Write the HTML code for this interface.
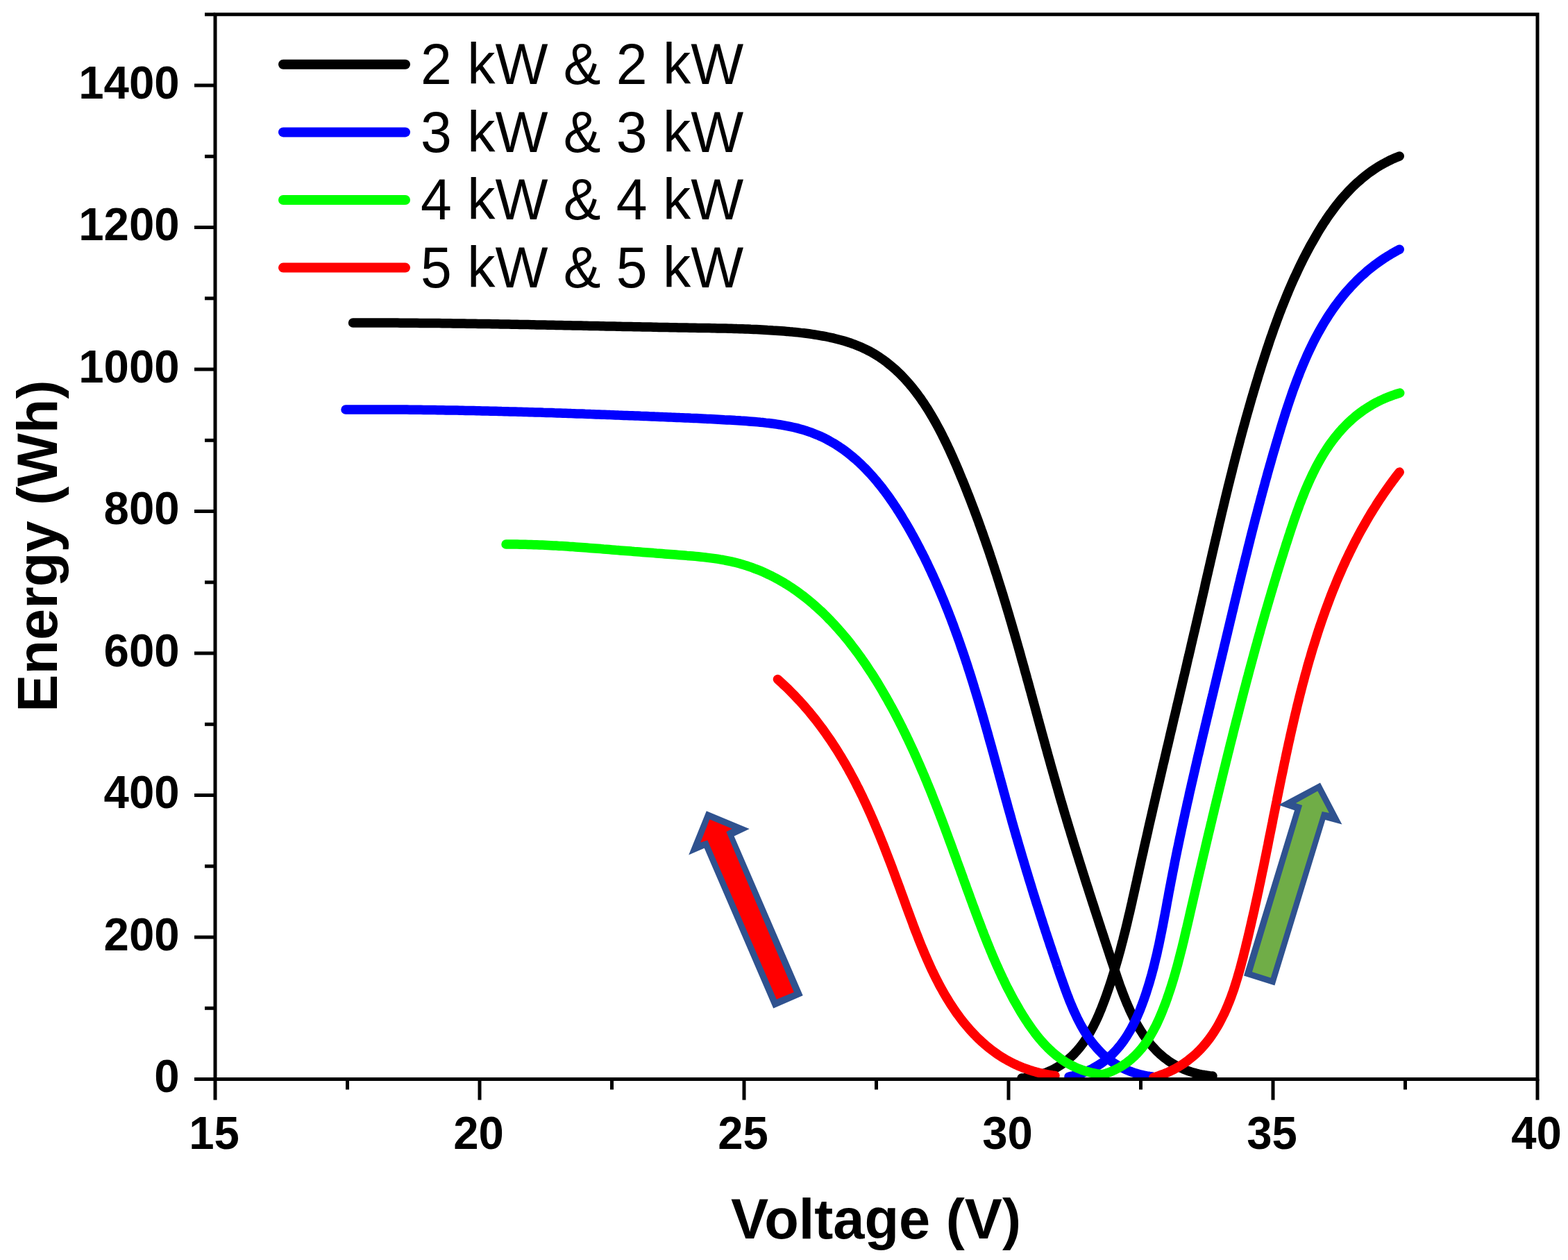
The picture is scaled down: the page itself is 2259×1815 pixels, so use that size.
<!DOCTYPE html>
<html><head><meta charset="utf-8"><title>Energy vs Voltage</title>
<style>
html,body{margin:0;padding:0;background:#fff;}
body{width:2259px;height:1815px;overflow:hidden;}
svg{display:block;}
text{font-family:"Liberation Sans",sans-serif;fill:#000;}
.tk{font-weight:bold;font-size:65.3px;}
.ttl{font-weight:bold;font-size:81.2px;}
.lg{font-size:80.5px;}
</style></head><body>
<svg width="2259" height="1815" viewBox="0 0 2259 1815">
<rect width="2259" height="1815" fill="#fff"/>
<defs><clipPath id="pa"><rect x="310.0" y="20.8" width="1905.0" height="1533.7"/></clipPath></defs>
<g clip-path="url(#pa)">
<path d="M508.5,465.0 L512.5,465.0 L516.5,465.0 L520.5,465.0 L524.5,465.0 L528.5,465.0 L532.6,465.0 L536.6,465.0 L540.6,465.0 L544.6,465.0 L548.6,465.0 L552.6,465.0 L556.6,465.1 L560.6,465.1 L564.6,465.1 L568.6,465.1 L572.6,465.1 L576.7,465.2 L580.7,465.2 L584.7,465.2 L588.7,465.2 L592.7,465.3 L596.7,465.3 L600.7,465.3 L604.7,465.4 L608.7,465.4 L612.7,465.4 L616.7,465.5 L620.8,465.5 L624.8,465.6 L628.8,465.6 L632.8,465.6 L636.8,465.7 L640.8,465.7 L644.8,465.8 L648.8,465.8 L652.8,465.9 L656.8,465.9 L660.8,466.0 L664.8,466.0 L668.9,466.1 L672.9,466.2 L676.9,466.2 L680.9,466.3 L684.9,466.3 L688.9,466.4 L692.9,466.5 L696.9,466.5 L700.9,466.6 L704.9,466.6 L708.9,466.7 L713.0,466.8 L717.0,466.8 L721.0,466.9 L725.0,467.0 L729.0,467.1 L733.0,467.1 L737.0,467.2 L741.0,467.3 L745.0,467.3 L749.0,467.4 L753.0,467.5 L757.0,467.6 L761.1,467.6 L765.1,467.7 L769.1,467.8 L773.1,467.9 L777.1,467.9 L781.1,468.0 L785.1,468.1 L789.1,468.2 L793.1,468.3 L797.1,468.3 L801.1,468.4 L805.1,468.5 L809.1,468.6 L813.2,468.7 L817.2,468.7 L821.2,468.8 L825.2,468.9 L829.2,469.0 L833.2,469.1 L837.2,469.1 L841.2,469.2 L845.2,469.3 L849.2,469.4 L853.2,469.5 L857.2,469.5 L861.3,469.6 L865.3,469.7 L869.3,469.8 L873.3,469.9 L877.3,470.0 L881.3,470.0 L885.3,470.1 L889.3,470.2 L893.3,470.3 L897.3,470.4 L901.3,470.4 L905.3,470.5 L909.4,470.6 L913.4,470.7 L917.4,470.8 L921.4,470.8 L925.4,470.9 L929.4,471.0 L933.4,471.1 L937.4,471.1 L941.4,471.2 L945.4,471.3 L949.4,471.4 L953.4,471.4 L957.5,471.5 L961.5,471.6 L965.5,471.7 L969.5,471.7 L973.5,471.8 L977.5,471.9 L981.5,472.0 L985.5,472.0 L989.5,472.1 L993.5,472.2 L997.5,472.2 L1001.5,472.3 L1005.6,472.4 L1009.6,472.4 L1013.6,472.5 L1017.6,472.6 L1021.6,472.6 L1025.6,472.7 L1029.6,472.8 L1033.6,472.9 L1037.6,472.9 L1041.6,473.0 L1045.6,473.1 L1049.6,473.2 L1053.7,473.3 L1057.7,473.4 L1061.7,473.6 L1065.7,473.7 L1069.7,473.8 L1073.7,474.0 L1077.7,474.1 L1081.7,474.3 L1085.7,474.4 L1089.7,474.6 L1093.7,474.8 L1097.7,475.0 L1101.7,475.2 L1105.7,475.5 L1109.7,475.7 L1113.7,476.0 L1117.7,476.2 L1121.7,476.5 L1125.7,476.8 L1129.7,477.1 L1133.7,477.4 L1137.7,477.8 L1141.7,478.1 L1145.7,478.5 L1149.7,478.9 L1153.7,479.4 L1157.6,479.8 L1161.6,480.3 L1165.6,480.8 L1169.6,481.4 L1173.5,482.0 L1177.5,482.6 L1181.5,483.3 L1185.4,484.0 L1189.3,484.7 L1193.3,485.5 L1197.2,486.3 L1201.1,487.2 L1205.0,488.2 L1208.9,489.2 L1212.8,490.2 L1216.6,491.3 L1220.4,492.5 L1224.2,493.7 L1228.0,495.1 L1231.8,496.4 L1235.5,497.9 L1239.2,499.4 L1242.9,501.1 L1246.5,502.8 L1250.1,504.6 L1253.7,506.4 L1257.2,508.4 L1260.6,510.4 L1264.0,512.5 L1267.4,514.7 L1270.7,517.0 L1274.0,519.3 L1277.2,521.7 L1280.3,524.2 L1283.4,526.7 L1286.5,529.3 L1289.5,531.9 L1292.4,534.7 L1295.3,537.4 L1298.2,540.2 L1301.0,543.1 L1303.7,546.0 L1306.4,549.0 L1309.1,552.0 L1311.7,555.1 L1314.3,558.1 L1316.8,561.3 L1319.2,564.4 L1321.6,567.6 L1324.0,570.9 L1326.4,574.1 L1328.6,577.4 L1330.9,580.7 L1333.1,584.1 L1335.3,587.4 L1337.4,590.8 L1339.5,594.2 L1341.6,597.7 L1343.6,601.1 L1345.6,604.6 L1347.6,608.1 L1349.5,611.6 L1351.4,615.1 L1353.3,618.7 L1355.2,622.2 L1357.0,625.8 L1358.8,629.4 L1360.6,633.0 L1362.3,636.6 L1364.1,640.2 L1365.8,643.8 L1367.5,647.4 L1369.2,651.1 L1370.8,654.7 L1372.5,658.4 L1374.1,662.1 L1375.7,665.7 L1377.3,669.4 L1378.9,673.1 L1380.4,676.8 L1382.0,680.5 L1383.5,684.2 L1385.0,687.9 L1386.6,691.6 L1388.1,695.3 L1389.6,699.0 L1391.1,702.7 L1392.6,706.5 L1394.0,710.2 L1395.5,713.9 L1397.0,717.7 L1398.4,721.4 L1399.8,725.1 L1401.3,728.9 L1402.7,732.6 L1404.1,736.4 L1405.5,740.2 L1406.9,743.9 L1408.3,747.7 L1409.7,751.4 L1411.0,755.2 L1412.4,759.0 L1413.7,762.8 L1415.1,766.5 L1416.4,770.3 L1417.7,774.1 L1419.1,777.9 L1420.4,781.7 L1421.7,785.5 L1423.0,789.3 L1424.3,793.0 L1425.6,796.8 L1426.8,800.6 L1428.1,804.4 L1429.4,808.3 L1430.6,812.1 L1431.9,815.9 L1433.1,819.7 L1434.3,823.5 L1435.6,827.3 L1436.8,831.1 L1438.0,835.0 L1439.2,838.8 L1440.4,842.6 L1441.6,846.4 L1442.8,850.3 L1444.0,854.1 L1445.2,857.9 L1446.3,861.7 L1447.5,865.6 L1448.7,869.4 L1449.8,873.3 L1451.0,877.1 L1452.1,880.9 L1453.3,884.8 L1454.4,888.6 L1455.5,892.5 L1456.7,896.3 L1457.8,900.2 L1458.9,904.0 L1460.0,907.9 L1461.2,911.7 L1462.3,915.6 L1463.4,919.4 L1464.5,923.3 L1465.6,927.1 L1466.7,931.0 L1467.8,934.8 L1468.9,938.7 L1470.0,942.6 L1471.0,946.4 L1472.1,950.3 L1473.2,954.1 L1474.3,958.0 L1475.4,961.9 L1476.4,965.7 L1477.5,969.6 L1478.6,973.4 L1479.6,977.3 L1480.7,981.2 L1481.8,985.0 L1482.8,988.9 L1483.9,992.8 L1485.0,996.6 L1486.0,1000.5 L1487.1,1004.4 L1488.1,1008.2 L1489.2,1012.1 L1490.3,1016.0 L1491.3,1019.8 L1492.4,1023.7 L1493.4,1027.6 L1494.5,1031.4 L1495.5,1035.3 L1496.6,1039.2 L1497.6,1043.0 L1498.7,1046.9 L1499.8,1050.8 L1500.8,1054.6 L1501.9,1058.5 L1502.9,1062.4 L1504.0,1066.2 L1505.1,1070.1 L1506.1,1074.0 L1507.2,1077.8 L1508.3,1081.7 L1509.3,1085.6 L1510.4,1089.4 L1511.5,1093.3 L1512.6,1097.2 L1513.6,1101.0 L1514.7,1104.9 L1515.8,1108.7 L1516.9,1112.6 L1518.0,1116.4 L1519.1,1120.3 L1520.2,1124.2 L1521.3,1128.0 L1522.4,1131.9 L1523.5,1135.7 L1524.6,1139.6 L1525.7,1143.4 L1526.8,1147.3 L1527.9,1151.1 L1529.0,1155.0 L1530.2,1158.8 L1531.3,1162.7 L1532.4,1166.5 L1533.6,1170.4 L1534.7,1174.2 L1535.9,1178.0 L1537.0,1181.9 L1538.2,1185.7 L1539.3,1189.6 L1540.5,1193.4 L1541.7,1197.2 L1542.8,1201.1 L1544.0,1204.9 L1545.2,1208.7 L1546.3,1212.6 L1547.5,1216.4 L1548.7,1220.2 L1549.9,1224.1 L1551.1,1227.9 L1552.3,1231.7 L1553.5,1235.5 L1554.7,1239.4 L1555.9,1243.2 L1557.1,1247.0 L1558.3,1250.8 L1559.5,1254.7 L1560.7,1258.5 L1561.9,1262.3 L1563.1,1266.1 L1564.3,1270.0 L1565.5,1273.8 L1566.8,1277.6 L1568.0,1281.4 L1569.2,1285.2 L1570.4,1289.0 L1571.7,1292.9 L1572.9,1296.7 L1574.1,1300.5 L1575.4,1304.3 L1576.6,1308.1 L1577.8,1311.9 L1579.1,1315.7 L1580.3,1319.6 L1581.6,1323.4 L1582.8,1327.2 L1584.0,1331.0 L1585.3,1334.8 L1586.5,1338.6 L1587.8,1342.4 L1589.0,1346.2 L1590.3,1350.0 L1591.5,1353.9 L1592.8,1357.7 L1594.0,1361.5 L1595.3,1365.3 L1596.5,1369.1 L1597.8,1372.9 L1599.0,1376.7 L1600.3,1380.5 L1601.5,1384.3 L1602.8,1388.1 L1604.1,1391.9 L1605.3,1395.7 L1606.6,1399.5 L1607.9,1403.3 L1609.2,1407.1 L1610.5,1410.9 L1611.8,1414.7 L1613.1,1418.5 L1614.5,1422.3 L1615.9,1426.0 L1617.3,1429.8 L1618.7,1433.5 L1620.2,1437.3 L1621.7,1441.0 L1623.2,1444.7 L1624.8,1448.4 L1626.4,1452.0 L1628.0,1455.7 L1629.7,1459.3 L1631.5,1462.9 L1633.2,1466.5 L1635.1,1470.1 L1637.0,1473.6 L1638.9,1477.1 L1640.9,1480.6 L1643.0,1484.0 L1645.2,1487.4 L1647.4,1490.8 L1649.7,1494.0 L1652.0,1497.3 L1654.5,1500.5 L1657.0,1503.6 L1659.6,1506.6 L1662.3,1509.6 L1665.0,1512.5 L1667.9,1515.4 L1670.8,1518.1 L1673.8,1520.7 L1676.9,1523.3 L1680.1,1525.7 L1683.3,1528.1 L1686.7,1530.3 L1690.1,1532.4 L1693.5,1534.4 L1697.1,1536.3 L1700.7,1538.1 L1704.3,1539.7 L1708.0,1541.2 L1711.8,1542.6 L1715.6,1543.9 L1719.4,1545.1 L1723.3,1546.1 L1727.2,1547.0 L1731.1,1547.8 L1735.1,1548.5 L1739.1,1549.1 L1743.0,1549.6 L1747.0,1550.0" fill="none" stroke="#000" stroke-width="13.5" stroke-linecap="round" stroke-linejoin="round"/>
<path d="M1472.0,1553.0 L1476.0,1552.6 L1480.0,1552.0 L1483.9,1551.4 L1487.9,1550.6 L1491.8,1549.8 L1495.7,1548.8 L1499.5,1547.6 L1503.3,1546.4 L1507.1,1545.0 L1510.8,1543.5 L1514.5,1541.8 L1518.1,1540.1 L1521.6,1538.1 L1525.1,1536.1 L1528.5,1534.0 L1531.8,1531.7 L1535.0,1529.3 L1538.1,1526.8 L1541.1,1524.1 L1544.1,1521.4 L1547.0,1518.6 L1549.7,1515.7 L1552.4,1512.7 L1555.0,1509.6 L1557.5,1506.5 L1559.9,1503.3 L1562.2,1500.0 L1564.5,1496.7 L1566.6,1493.3 L1568.7,1489.9 L1570.8,1486.4 L1572.7,1482.9 L1574.6,1479.4 L1576.4,1475.8 L1578.2,1472.2 L1579.9,1468.6 L1581.6,1464.9 L1583.2,1461.2 L1584.7,1457.5 L1586.3,1453.8 L1587.7,1450.1 L1589.2,1446.3 L1590.6,1442.6 L1592.0,1438.8 L1593.4,1435.0 L1594.7,1431.3 L1596.0,1427.5 L1597.3,1423.7 L1598.6,1419.9 L1599.9,1416.0 L1601.1,1412.2 L1602.3,1408.4 L1603.5,1404.6 L1604.7,1400.7 L1605.9,1396.9 L1607.0,1393.0 L1608.1,1389.2 L1609.2,1385.3 L1610.3,1381.5 L1611.4,1377.6 L1612.5,1373.7 L1613.6,1369.9 L1614.6,1366.0 L1615.6,1362.1 L1616.6,1358.2 L1617.7,1354.3 L1618.6,1350.5 L1619.6,1346.6 L1620.6,1342.7 L1621.6,1338.8 L1622.5,1334.9 L1623.5,1331.0 L1624.4,1327.1 L1625.3,1323.2 L1626.2,1319.3 L1627.2,1315.3 L1628.1,1311.4 L1629.0,1307.5 L1629.9,1303.6 L1630.8,1299.7 L1631.6,1295.8 L1632.5,1291.9 L1633.4,1287.9 L1634.3,1284.0 L1635.2,1280.1 L1636.0,1276.2 L1636.9,1272.3 L1637.8,1268.4 L1638.6,1264.4 L1639.5,1260.5 L1640.4,1256.6 L1641.2,1252.7 L1642.1,1248.8 L1643.0,1244.8 L1643.8,1240.9 L1644.7,1237.0 L1645.6,1233.1 L1646.5,1229.2 L1647.4,1225.3 L1648.2,1221.3 L1649.1,1217.4 L1650.0,1213.5 L1650.9,1209.6 L1651.8,1205.7 L1652.7,1201.8 L1653.6,1197.8 L1654.4,1193.9 L1655.3,1190.0 L1656.2,1186.1 L1657.1,1182.2 L1658.0,1178.3 L1658.9,1174.4 L1659.8,1170.4 L1660.7,1166.5 L1661.6,1162.6 L1662.5,1158.7 L1663.4,1154.8 L1664.3,1150.9 L1665.2,1147.0 L1666.1,1143.1 L1667.0,1139.2 L1667.9,1135.2 L1668.9,1131.3 L1669.8,1127.4 L1670.7,1123.5 L1671.6,1119.6 L1672.5,1115.7 L1673.4,1111.8 L1674.3,1107.9 L1675.2,1104.0 L1676.1,1100.1 L1677.1,1096.2 L1678.0,1092.2 L1678.9,1088.3 L1679.8,1084.4 L1680.7,1080.5 L1681.6,1076.6 L1682.6,1072.7 L1683.5,1068.8 L1684.4,1064.9 L1685.3,1061.0 L1686.2,1057.1 L1687.1,1053.2 L1688.1,1049.3 L1689.0,1045.3 L1689.9,1041.4 L1690.8,1037.5 L1691.7,1033.6 L1692.7,1029.7 L1693.6,1025.8 L1694.5,1021.9 L1695.4,1018.0 L1696.3,1014.1 L1697.3,1010.2 L1698.2,1006.3 L1699.1,1002.4 L1700.0,998.5 L1700.9,994.5 L1701.9,990.6 L1702.8,986.7 L1703.7,982.8 L1704.6,978.9 L1705.5,975.0 L1706.5,971.1 L1707.4,967.2 L1708.3,963.3 L1709.2,959.4 L1710.1,955.5 L1711.0,951.6 L1711.9,947.6 L1712.9,943.7 L1713.8,939.8 L1714.7,935.9 L1715.6,932.0 L1716.5,928.1 L1717.4,924.2 L1718.3,920.3 L1719.2,916.4 L1720.1,912.5 L1721.1,908.6 L1722.0,904.6 L1722.9,900.7 L1723.8,896.8 L1724.7,892.9 L1725.6,889.0 L1726.5,885.1 L1727.4,881.2 L1728.3,877.3 L1729.2,873.3 L1730.1,869.4 L1731.0,865.5 L1731.9,861.6 L1732.8,857.7 L1733.7,853.8 L1734.6,849.9 L1735.5,846.0 L1736.3,842.0 L1737.2,838.1 L1738.1,834.2 L1739.0,830.3 L1739.9,826.4 L1740.8,822.5 L1741.7,818.6 L1742.6,814.7 L1743.5,810.7 L1744.4,806.8 L1745.3,802.9 L1746.2,799.0 L1747.1,795.1 L1748.0,791.2 L1748.9,787.3 L1749.8,783.4 L1750.7,779.4 L1751.7,775.5 L1752.6,771.6 L1753.5,767.7 L1754.4,763.8 L1755.3,759.9 L1756.2,756.0 L1757.1,752.1 L1758.1,748.2 L1759.0,744.3 L1759.9,740.4 L1760.8,736.5 L1761.8,732.6 L1762.7,728.7 L1763.7,724.7 L1764.6,720.8 L1765.5,716.9 L1766.5,713.0 L1767.4,709.1 L1768.4,705.2 L1769.3,701.3 L1770.3,697.4 L1771.3,693.5 L1772.2,689.7 L1773.2,685.8 L1774.2,681.9 L1775.2,678.0 L1776.1,674.1 L1777.1,670.2 L1778.1,666.3 L1779.1,662.4 L1780.1,658.5 L1781.1,654.6 L1782.1,650.7 L1783.1,646.9 L1784.2,643.0 L1785.2,639.1 L1786.2,635.2 L1787.2,631.3 L1788.3,627.5 L1789.3,623.6 L1790.4,619.7 L1791.4,615.8 L1792.5,612.0 L1793.6,608.1 L1794.6,604.2 L1795.7,600.4 L1796.8,596.5 L1797.9,592.6 L1799.0,588.8 L1800.1,584.9 L1801.2,581.1 L1802.3,577.2 L1803.4,573.3 L1804.6,569.5 L1805.7,565.6 L1806.8,561.8 L1808.0,557.9 L1809.1,554.1 L1810.3,550.3 L1811.5,546.4 L1812.6,542.6 L1813.8,538.7 L1815.0,534.9 L1816.2,531.1 L1817.4,527.2 L1818.6,523.4 L1819.9,519.6 L1821.1,515.8 L1822.3,512.0 L1823.6,508.1 L1824.8,504.3 L1826.1,500.5 L1827.4,496.7 L1828.6,492.9 L1829.9,489.1 L1831.2,485.3 L1832.6,481.5 L1833.9,477.7 L1835.2,473.9 L1836.6,470.2 L1838.0,466.4 L1839.3,462.6 L1840.7,458.9 L1842.1,455.1 L1843.5,451.3 L1845.0,447.6 L1846.4,443.8 L1847.9,440.1 L1849.4,436.4 L1850.9,432.7 L1852.4,428.9 L1853.9,425.2 L1855.5,421.5 L1857.0,417.8 L1858.6,414.1 L1860.2,410.4 L1861.8,406.8 L1863.4,403.1 L1865.1,399.4 L1866.8,395.8 L1868.5,392.2 L1870.2,388.5 L1871.9,384.9 L1873.6,381.3 L1875.4,377.7 L1877.2,374.1 L1879.0,370.5 L1880.9,366.9 L1882.7,363.4 L1884.6,359.8 L1886.5,356.3 L1888.4,352.8 L1890.4,349.3 L1892.4,345.8 L1894.4,342.3 L1896.4,338.8 L1898.4,335.4 L1900.5,331.9 L1902.6,328.5 L1904.7,325.1 L1906.9,321.7 L1909.1,318.4 L1911.3,315.0 L1913.6,311.7 L1915.9,308.4 L1918.3,305.2 L1920.6,302.0 L1923.0,298.7 L1925.5,295.6 L1928.0,292.4 L1930.5,289.3 L1933.1,286.2 L1935.7,283.2 L1938.4,280.2 L1941.1,277.2 L1943.9,274.3 L1946.7,271.4 L1949.5,268.6 L1952.4,265.8 L1955.4,263.1 L1958.4,260.4 L1961.4,257.8 L1964.5,255.3 L1967.6,252.8 L1970.8,250.3 L1974.0,247.9 L1977.3,245.6 L1980.6,243.4 L1984.0,241.2 L1987.4,239.1 L1990.9,237.0 L1994.4,235.1 L1997.9,233.2 L2001.5,231.4 L2005.1,229.6 L2008.8,228.0 L2012.5,226.4 L2016.2,224.9" fill="none" stroke="#000" stroke-width="13.5" stroke-linecap="round" stroke-linejoin="round"/>
<path d="M498.0,590.0 L502.0,590.0 L506.0,590.0 L510.0,590.0 L514.0,589.9 L518.1,589.9 L522.1,589.9 L526.1,589.9 L530.1,589.9 L534.1,589.9 L538.1,589.9 L542.1,589.9 L546.1,589.9 L550.2,589.9 L554.2,590.0 L558.2,590.0 L562.2,590.0 L566.2,590.0 L570.2,590.0 L574.2,590.1 L578.2,590.1 L582.2,590.1 L586.3,590.1 L590.3,590.2 L594.3,590.2 L598.3,590.3 L602.3,590.3 L606.3,590.3 L610.3,590.4 L614.3,590.4 L618.4,590.5 L622.4,590.5 L626.4,590.6 L630.4,590.7 L634.4,590.7 L638.4,590.8 L642.4,590.9 L646.4,590.9 L650.4,591.0 L654.5,591.1 L658.5,591.1 L662.5,591.2 L666.5,591.3 L670.5,591.4 L674.5,591.4 L678.5,591.5 L682.5,591.6 L686.5,591.7 L690.6,591.8 L694.6,591.9 L698.6,592.0 L702.6,592.1 L706.6,592.2 L710.6,592.2 L714.6,592.3 L718.6,592.4 L722.6,592.6 L726.7,592.7 L730.7,592.8 L734.7,592.9 L738.7,593.0 L742.7,593.1 L746.7,593.2 L750.7,593.3 L754.7,593.4 L758.7,593.5 L762.7,593.7 L766.8,593.8 L770.8,593.9 L774.8,594.0 L778.8,594.1 L782.8,594.3 L786.8,594.4 L790.8,594.5 L794.8,594.6 L798.8,594.8 L802.9,594.9 L806.9,595.0 L810.9,595.2 L814.9,595.3 L818.9,595.4 L822.9,595.6 L826.9,595.7 L830.9,595.9 L834.9,596.0 L838.9,596.1 L842.9,596.3 L847.0,596.4 L851.0,596.6 L855.0,596.7 L859.0,596.9 L863.0,597.0 L867.0,597.2 L871.0,597.3 L875.0,597.4 L879.0,597.6 L883.0,597.7 L887.0,597.9 L891.1,598.1 L895.1,598.2 L899.1,598.4 L903.1,598.5 L907.1,598.7 L911.1,598.8 L915.1,599.0 L919.1,599.1 L923.1,599.3 L927.1,599.4 L931.1,599.6 L935.2,599.8 L939.2,599.9 L943.2,600.1 L947.2,600.2 L951.2,600.4 L955.2,600.6 L959.2,600.7 L963.2,600.9 L967.2,601.1 L971.2,601.2 L975.2,601.4 L979.3,601.6 L983.3,601.7 L987.3,601.9 L991.3,602.1 L995.3,602.3 L999.3,602.4 L1003.3,602.6 L1007.3,602.8 L1011.3,603.0 L1015.3,603.2 L1019.3,603.4 L1023.3,603.6 L1027.3,603.8 L1031.4,604.0 L1035.4,604.2 L1039.4,604.4 L1043.4,604.7 L1047.4,604.9 L1051.4,605.1 L1055.4,605.3 L1059.4,605.6 L1063.4,605.8 L1067.4,606.1 L1071.4,606.3 L1075.4,606.6 L1079.4,606.9 L1083.4,607.2 L1087.4,607.5 L1091.4,607.9 L1095.4,608.3 L1099.4,608.6 L1103.4,609.1 L1107.4,609.5 L1111.3,610.0 L1115.3,610.5 L1119.3,611.1 L1123.3,611.7 L1127.2,612.4 L1131.2,613.1 L1135.1,613.8 L1139.0,614.6 L1143.0,615.5 L1146.9,616.4 L1150.8,617.4 L1154.6,618.5 L1158.5,619.6 L1162.3,620.8 L1166.1,622.1 L1169.9,623.4 L1173.6,624.9 L1177.3,626.4 L1181.0,628.0 L1184.7,629.7 L1188.3,631.4 L1191.8,633.3 L1195.4,635.2 L1198.8,637.2 L1202.3,639.2 L1205.7,641.4 L1209.0,643.5 L1212.4,645.8 L1215.6,648.1 L1218.9,650.5 L1222.1,652.9 L1225.2,655.4 L1228.3,658.0 L1231.3,660.6 L1234.4,663.2 L1237.3,665.9 L1240.2,668.7 L1243.1,671.5 L1246.0,674.3 L1248.8,677.2 L1251.5,680.1 L1254.2,683.0 L1256.9,686.0 L1259.6,689.1 L1262.2,692.1 L1264.7,695.2 L1267.3,698.3 L1269.8,701.4 L1272.2,704.6 L1274.6,707.8 L1277.0,711.0 L1279.4,714.3 L1281.7,717.5 L1284.0,720.8 L1286.3,724.1 L1288.5,727.5 L1290.8,730.8 L1292.9,734.2 L1295.1,737.5 L1297.2,740.9 L1299.4,744.4 L1301.4,747.8 L1303.5,751.2 L1305.6,754.7 L1307.6,758.1 L1309.6,761.6 L1311.6,765.1 L1313.5,768.6 L1315.5,772.1 L1317.4,775.6 L1319.3,779.2 L1321.2,782.7 L1323.0,786.3 L1324.9,789.8 L1326.7,793.4 L1328.6,797.0 L1330.4,800.5 L1332.2,804.1 L1333.9,807.7 L1335.7,811.3 L1337.4,815.0 L1339.1,818.6 L1340.8,822.2 L1342.5,825.9 L1344.2,829.5 L1345.9,833.2 L1347.5,836.8 L1349.1,840.5 L1350.7,844.2 L1352.3,847.8 L1353.9,851.5 L1355.5,855.2 L1357.0,858.9 L1358.6,862.6 L1360.1,866.3 L1361.6,870.0 L1363.1,873.8 L1364.6,877.5 L1366.1,881.2 L1367.5,885.0 L1369.0,888.7 L1370.4,892.4 L1371.8,896.2 L1373.3,900.0 L1374.6,903.7 L1376.0,907.5 L1377.4,911.3 L1378.8,915.0 L1380.1,918.8 L1381.5,922.6 L1382.8,926.4 L1384.1,930.2 L1385.4,934.0 L1386.7,937.7 L1388.0,941.5 L1389.3,945.4 L1390.6,949.2 L1391.8,953.0 L1393.1,956.8 L1394.3,960.6 L1395.5,964.4 L1396.8,968.2 L1398.0,972.1 L1399.2,975.9 L1400.4,979.7 L1401.6,983.5 L1402.8,987.4 L1403.9,991.2 L1405.1,995.0 L1406.3,998.9 L1407.4,1002.7 L1408.6,1006.6 L1409.7,1010.4 L1410.9,1014.3 L1412.0,1018.1 L1413.1,1022.0 L1414.3,1025.8 L1415.4,1029.7 L1416.5,1033.5 L1417.6,1037.4 L1418.7,1041.2 L1419.8,1045.1 L1420.9,1049.0 L1422.0,1052.8 L1423.1,1056.7 L1424.1,1060.5 L1425.2,1064.4 L1426.3,1068.3 L1427.4,1072.1 L1428.5,1076.0 L1429.5,1079.9 L1430.6,1083.7 L1431.7,1087.6 L1432.7,1091.5 L1433.8,1095.3 L1434.8,1099.2 L1435.9,1103.1 L1437.0,1106.9 L1438.0,1110.8 L1439.1,1114.7 L1440.1,1118.6 L1441.2,1122.4 L1442.3,1126.3 L1443.3,1130.2 L1444.4,1134.0 L1445.4,1137.9 L1446.5,1141.8 L1447.6,1145.6 L1448.6,1149.5 L1449.7,1153.4 L1450.8,1157.2 L1451.8,1161.1 L1452.9,1165.0 L1454.0,1168.8 L1455.1,1172.7 L1456.2,1176.6 L1457.2,1180.4 L1458.3,1184.3 L1459.4,1188.1 L1460.5,1192.0 L1461.6,1195.9 L1462.7,1199.7 L1463.8,1203.6 L1465.0,1207.4 L1466.1,1211.3 L1467.2,1215.1 L1468.3,1219.0 L1469.5,1222.8 L1470.6,1226.7 L1471.7,1230.5 L1472.9,1234.4 L1474.0,1238.2 L1475.2,1242.1 L1476.3,1245.9 L1477.5,1249.8 L1478.6,1253.6 L1479.8,1257.4 L1481.0,1261.3 L1482.1,1265.1 L1483.3,1268.9 L1484.5,1272.8 L1485.7,1276.6 L1486.8,1280.4 L1488.0,1284.3 L1489.2,1288.1 L1490.4,1291.9 L1491.6,1295.8 L1492.8,1299.6 L1494.0,1303.4 L1495.3,1307.2 L1496.5,1311.1 L1497.7,1314.9 L1498.9,1318.7 L1500.1,1322.5 L1501.4,1326.3 L1502.6,1330.2 L1503.8,1334.0 L1505.1,1337.8 L1506.3,1341.6 L1507.6,1345.4 L1508.8,1349.2 L1510.1,1353.0 L1511.4,1356.9 L1512.6,1360.7 L1513.9,1364.5 L1515.2,1368.3 L1516.4,1372.1 L1517.7,1375.9 L1519.0,1379.7 L1520.3,1383.5 L1521.6,1387.3 L1522.8,1391.1 L1524.1,1394.9 L1525.4,1398.7 L1526.7,1402.5 L1528.0,1406.3 L1529.4,1410.1 L1530.7,1413.8 L1532.0,1417.6 L1533.4,1421.4 L1534.7,1425.2 L1536.1,1428.9 L1537.5,1432.7 L1539.0,1436.4 L1540.4,1440.2 L1541.9,1443.9 L1543.5,1447.6 L1545.0,1451.3 L1546.6,1455.0 L1548.3,1458.6 L1550.0,1462.3 L1551.7,1465.9 L1553.5,1469.5 L1555.3,1473.0 L1557.2,1476.6 L1559.2,1480.1 L1561.2,1483.5 L1563.3,1487.0 L1565.5,1490.4 L1567.7,1493.7 L1570.0,1497.0 L1572.4,1500.2 L1574.8,1503.4 L1577.4,1506.5 L1580.0,1509.5 L1582.7,1512.5 L1585.5,1515.4 L1588.3,1518.2 L1591.3,1520.9 L1594.3,1523.5 L1597.5,1526.0 L1600.7,1528.4 L1604.0,1530.7 L1607.3,1532.9 L1610.8,1535.0 L1614.3,1536.9 L1617.9,1538.7 L1621.5,1540.5 L1625.2,1542.0 L1628.9,1543.5 L1632.7,1544.8 L1636.5,1546.1 L1640.4,1547.2 L1644.2,1548.2 L1648.2,1549.0 L1652.1,1549.8 L1656.1,1550.5 L1660.0,1551.0" fill="none" stroke="#00f" stroke-width="13.5" stroke-linecap="round" stroke-linejoin="round"/>
<path d="M1540.0,1551.0 L1543.9,1550.2 L1547.8,1549.2 L1551.7,1548.1 L1555.6,1546.9 L1559.4,1545.6 L1563.1,1544.2 L1566.8,1542.6 L1570.5,1541.0 L1574.1,1539.2 L1577.6,1537.2 L1581.1,1535.2 L1584.5,1533.0 L1587.8,1530.8 L1591.0,1528.4 L1594.2,1525.9 L1597.3,1523.3 L1600.3,1520.6 L1603.2,1517.8 L1606.0,1514.9 L1608.7,1512.0 L1611.3,1508.9 L1613.9,1505.8 L1616.3,1502.6 L1618.7,1499.4 L1621.0,1496.0 L1623.2,1492.7 L1625.3,1489.3 L1627.4,1485.8 L1629.4,1482.3 L1631.3,1478.8 L1633.1,1475.2 L1634.9,1471.6 L1636.6,1467.9 L1638.3,1464.3 L1639.9,1460.6 L1641.5,1456.9 L1643.0,1453.2 L1644.4,1449.4 L1645.9,1445.6 L1647.2,1441.9 L1648.6,1438.1 L1649.9,1434.3 L1651.2,1430.5 L1652.4,1426.6 L1653.6,1422.8 L1654.8,1418.9 L1656.0,1415.1 L1657.1,1411.2 L1658.2,1407.4 L1659.3,1403.5 L1660.3,1399.6 L1661.4,1395.7 L1662.4,1391.8 L1663.3,1387.9 L1664.3,1384.0 L1665.2,1380.1 L1666.2,1376.2 L1667.1,1372.2 L1667.9,1368.3 L1668.8,1364.4 L1669.7,1360.5 L1670.5,1356.5 L1671.3,1352.6 L1672.1,1348.6 L1672.9,1344.7 L1673.7,1340.8 L1674.5,1336.8 L1675.3,1332.9 L1676.0,1328.9 L1676.8,1324.9 L1677.5,1321.0 L1678.3,1317.0 L1679.0,1313.1 L1679.8,1309.1 L1680.5,1305.2 L1681.2,1301.2 L1681.9,1297.3 L1682.7,1293.3 L1683.4,1289.3 L1684.1,1285.4 L1684.9,1281.4 L1685.6,1277.5 L1686.4,1273.5 L1687.1,1269.6 L1687.9,1265.6 L1688.7,1261.7 L1689.4,1257.7 L1690.2,1253.8 L1691.0,1249.8 L1691.8,1245.9 L1692.5,1241.9 L1693.3,1238.0 L1694.1,1234.0 L1694.9,1230.1 L1695.7,1226.1 L1696.5,1222.2 L1697.4,1218.3 L1698.2,1214.3 L1699.0,1210.4 L1699.8,1206.4 L1700.7,1202.5 L1701.5,1198.6 L1702.3,1194.6 L1703.2,1190.7 L1704.0,1186.8 L1704.9,1182.8 L1705.7,1178.9 L1706.6,1175.0 L1707.4,1171.0 L1708.3,1167.1 L1709.2,1163.2 L1710.0,1159.2 L1710.9,1155.3 L1711.8,1151.4 L1712.7,1147.5 L1713.5,1143.5 L1714.4,1139.6 L1715.3,1135.7 L1716.2,1131.8 L1717.1,1127.8 L1718.0,1123.9 L1718.9,1120.0 L1719.8,1116.1 L1720.7,1112.2 L1721.6,1108.2 L1722.5,1104.3 L1723.4,1100.4 L1724.3,1096.5 L1725.2,1092.6 L1726.1,1088.6 L1727.1,1084.7 L1728.0,1080.8 L1728.9,1076.9 L1729.8,1073.0 L1730.7,1069.0 L1731.7,1065.1 L1732.6,1061.2 L1733.5,1057.3 L1734.5,1053.4 L1735.4,1049.5 L1736.3,1045.6 L1737.3,1041.6 L1738.2,1037.7 L1739.1,1033.8 L1740.1,1029.9 L1741.0,1026.0 L1741.9,1022.1 L1742.9,1018.2 L1743.8,1014.2 L1744.7,1010.3 L1745.7,1006.4 L1746.6,1002.5 L1747.6,998.6 L1748.5,994.7 L1749.4,990.8 L1750.4,986.8 L1751.3,982.9 L1752.3,979.0 L1753.2,975.1 L1754.1,971.2 L1755.1,967.3 L1756.0,963.4 L1756.9,959.5 L1757.9,955.5 L1758.8,951.6 L1759.8,947.7 L1760.7,943.8 L1761.6,939.9 L1762.6,936.0 L1763.5,932.1 L1764.4,928.1 L1765.4,924.2 L1766.3,920.3 L1767.2,916.4 L1768.2,912.5 L1769.1,908.6 L1770.0,904.7 L1771.0,900.7 L1771.9,896.8 L1772.8,892.9 L1773.8,889.0 L1774.7,885.1 L1775.6,881.2 L1776.6,877.3 L1777.5,873.3 L1778.4,869.4 L1779.4,865.5 L1780.3,861.6 L1781.3,857.7 L1782.2,853.8 L1783.1,849.9 L1784.1,846.0 L1785.0,842.0 L1786.0,838.1 L1786.9,834.2 L1787.9,830.3 L1788.8,826.4 L1789.8,822.5 L1790.8,818.6 L1791.7,814.7 L1792.7,810.8 L1793.6,806.9 L1794.6,803.0 L1795.6,799.1 L1796.6,795.2 L1797.5,791.2 L1798.5,787.3 L1799.5,783.4 L1800.5,779.5 L1801.4,775.6 L1802.4,771.7 L1803.4,767.8 L1804.4,763.9 L1805.4,760.0 L1806.4,756.1 L1807.4,752.2 L1808.4,748.3 L1809.4,744.5 L1810.5,740.6 L1811.5,736.7 L1812.5,732.8 L1813.5,728.9 L1814.6,725.0 L1815.6,721.1 L1816.6,717.2 L1817.7,713.3 L1818.7,709.4 L1819.8,705.6 L1820.8,701.7 L1821.9,697.8 L1822.9,693.9 L1824.0,690.0 L1825.1,686.1 L1826.1,682.3 L1827.2,678.4 L1828.3,674.5 L1829.4,670.6 L1830.5,666.8 L1831.6,662.9 L1832.7,659.0 L1833.8,655.2 L1834.9,651.3 L1836.1,647.4 L1837.2,643.6 L1838.3,639.7 L1839.5,635.9 L1840.6,632.0 L1841.8,628.1 L1842.9,624.3 L1844.1,620.4 L1845.2,616.6 L1846.4,612.7 L1847.6,608.9 L1848.8,605.0 L1850.0,601.2 L1851.2,597.4 L1852.4,593.5 L1853.7,589.7 L1854.9,585.9 L1856.2,582.1 L1857.5,578.2 L1858.8,574.4 L1860.1,570.6 L1861.4,566.8 L1862.7,563.0 L1864.1,559.2 L1865.5,555.5 L1866.9,551.7 L1868.3,547.9 L1869.7,544.2 L1871.2,540.4 L1872.6,536.7 L1874.1,532.9 L1875.7,529.2 L1877.2,525.5 L1878.8,521.8 L1880.4,518.1 L1882.0,514.4 L1883.6,510.7 L1885.3,507.1 L1887.0,503.4 L1888.8,499.8 L1890.5,496.2 L1892.3,492.6 L1894.1,489.0 L1896.0,485.4 L1897.9,481.9 L1899.8,478.3 L1901.8,474.8 L1903.8,471.3 L1905.8,467.9 L1907.9,464.4 L1910.0,461.0 L1912.1,457.6 L1914.3,454.2 L1916.5,450.8 L1918.8,447.5 L1921.1,444.2 L1923.4,440.9 L1925.8,437.7 L1928.2,434.4 L1930.7,431.3 L1933.2,428.1 L1935.7,425.0 L1938.3,421.9 L1940.9,418.9 L1943.6,415.9 L1946.3,412.9 L1949.1,410.0 L1951.9,407.1 L1954.7,404.2 L1957.6,401.4 L1960.5,398.6 L1963.5,395.9 L1966.5,393.3 L1969.5,390.6 L1972.6,388.1 L1975.8,385.5 L1978.9,383.0 L1982.1,380.6 L1985.4,378.2 L1988.7,375.9 L1992.0,373.6 L1995.3,371.4 L1998.7,369.3 L2002.2,367.2 L2005.6,365.1 L2009.1,363.1 L2012.6,361.1 L2016.2,359.2" fill="none" stroke="#00f" stroke-width="13.5" stroke-linecap="round" stroke-linejoin="round"/>
<path d="M729.0,784.0 L733.0,784.0 L737.0,784.0 L741.1,784.1 L745.1,784.1 L749.1,784.2 L753.1,784.2 L757.1,784.3 L761.2,784.4 L765.2,784.5 L769.2,784.7 L773.2,784.8 L777.2,785.0 L781.3,785.1 L785.3,785.3 L789.3,785.5 L793.3,785.7 L797.3,785.9 L801.4,786.1 L805.4,786.4 L809.4,786.6 L813.4,786.8 L817.4,787.1 L821.4,787.4 L825.4,787.6 L829.5,787.9 L833.5,788.2 L837.5,788.5 L841.5,788.8 L845.5,789.1 L849.5,789.4 L853.5,789.7 L857.5,790.0 L861.5,790.3 L865.6,790.6 L869.6,791.0 L873.6,791.3 L877.6,791.6 L881.6,791.9 L885.6,792.2 L889.6,792.6 L893.6,792.9 L897.6,793.2 L901.6,793.5 L905.6,793.8 L909.7,794.1 L913.7,794.5 L917.7,794.8 L921.7,795.1 L925.7,795.4 L929.7,795.7 L933.7,796.0 L937.7,796.3 L941.7,796.6 L945.8,797.0 L949.8,797.3 L953.8,797.6 L957.8,797.9 L961.8,798.2 L965.8,798.5 L969.8,798.8 L973.8,799.1 L977.8,799.4 L981.8,799.7 L985.9,800.0 L989.9,800.4 L993.9,800.7 L997.9,801.0 L1001.9,801.4 L1005.9,801.8 L1009.9,802.2 L1013.9,802.6 L1017.9,803.1 L1021.9,803.6 L1025.9,804.1 L1029.9,804.6 L1033.8,805.2 L1037.8,805.9 L1041.8,806.5 L1045.7,807.3 L1049.7,808.1 L1053.6,808.9 L1057.5,809.8 L1061.4,810.8 L1065.3,811.8 L1069.2,812.9 L1073.0,814.1 L1076.9,815.3 L1080.7,816.6 L1084.5,817.9 L1088.2,819.4 L1092.0,820.8 L1095.7,822.3 L1099.4,823.9 L1103.1,825.6 L1106.7,827.3 L1110.3,829.0 L1113.9,830.9 L1117.5,832.7 L1121.0,834.6 L1124.5,836.6 L1128.0,838.6 L1131.4,840.7 L1134.9,842.8 L1138.2,845.0 L1141.6,847.2 L1144.9,849.5 L1148.2,851.8 L1151.5,854.2 L1154.7,856.6 L1157.9,859.0 L1161.1,861.5 L1164.2,864.0 L1167.3,866.6 L1170.4,869.2 L1173.4,871.8 L1176.4,874.5 L1179.4,877.2 L1182.4,879.9 L1185.3,882.7 L1188.2,885.5 L1191.0,888.3 L1193.8,891.2 L1196.6,894.0 L1199.4,897.0 L1202.2,899.9 L1204.9,902.9 L1207.5,905.9 L1210.2,908.9 L1212.8,911.9 L1215.4,915.0 L1218.0,918.1 L1220.6,921.2 L1223.1,924.3 L1225.6,927.5 L1228.0,930.7 L1230.5,933.9 L1232.9,937.1 L1235.3,940.3 L1237.7,943.6 L1240.0,946.8 L1242.3,950.1 L1244.6,953.4 L1246.9,956.7 L1249.2,960.1 L1251.4,963.4 L1253.6,966.8 L1255.8,970.1 L1258.0,973.5 L1260.1,976.9 L1262.3,980.3 L1264.4,983.8 L1266.5,987.2 L1268.5,990.6 L1270.6,994.1 L1272.6,997.6 L1274.6,1001.1 L1276.6,1004.5 L1278.6,1008.0 L1280.6,1011.6 L1282.5,1015.1 L1284.5,1018.6 L1286.4,1022.1 L1288.3,1025.7 L1290.2,1029.2 L1292.0,1032.8 L1293.9,1036.4 L1295.7,1039.9 L1297.5,1043.5 L1299.4,1047.1 L1301.1,1050.7 L1302.9,1054.3 L1304.7,1057.9 L1306.4,1061.6 L1308.2,1065.2 L1309.9,1068.8 L1311.6,1072.5 L1313.3,1076.1 L1315.0,1079.8 L1316.7,1083.4 L1318.3,1087.1 L1320.0,1090.8 L1321.6,1094.4 L1323.2,1098.1 L1324.8,1101.8 L1326.4,1105.5 L1328.0,1109.2 L1329.6,1112.9 L1331.2,1116.6 L1332.7,1120.3 L1334.3,1124.0 L1335.8,1127.7 L1337.3,1131.5 L1338.9,1135.2 L1340.4,1138.9 L1341.9,1142.6 L1343.4,1146.4 L1344.8,1150.1 L1346.3,1153.9 L1347.8,1157.6 L1349.2,1161.3 L1350.7,1165.1 L1352.2,1168.9 L1353.6,1172.6 L1355.0,1176.4 L1356.5,1180.1 L1357.9,1183.9 L1359.3,1187.7 L1360.7,1191.4 L1362.1,1195.2 L1363.5,1199.0 L1364.9,1202.7 L1366.3,1206.5 L1367.7,1210.3 L1369.1,1214.0 L1370.5,1217.8 L1371.9,1221.6 L1373.2,1225.4 L1374.6,1229.2 L1376.0,1232.9 L1377.4,1236.7 L1378.7,1240.5 L1380.1,1244.3 L1381.5,1248.1 L1382.9,1251.8 L1384.2,1255.6 L1385.6,1259.4 L1387.0,1263.2 L1388.3,1267.0 L1389.7,1270.8 L1391.1,1274.5 L1392.4,1278.3 L1393.8,1282.1 L1395.2,1285.9 L1396.6,1289.7 L1397.9,1293.4 L1399.3,1297.2 L1400.7,1301.0 L1402.1,1304.8 L1403.5,1308.5 L1404.9,1312.3 L1406.3,1316.1 L1407.7,1319.8 L1409.1,1323.6 L1410.5,1327.4 L1412.0,1331.1 L1413.4,1334.9 L1414.8,1338.7 L1416.3,1342.4 L1417.7,1346.2 L1419.2,1349.9 L1420.7,1353.6 L1422.2,1357.4 L1423.7,1361.1 L1425.2,1364.8 L1426.7,1368.6 L1428.3,1372.3 L1429.8,1376.0 L1431.4,1379.7 L1433.0,1383.4 L1434.6,1387.1 L1436.2,1390.7 L1437.9,1394.4 L1439.5,1398.1 L1441.2,1401.7 L1442.9,1405.4 L1444.6,1409.0 L1446.4,1412.6 L1448.1,1416.3 L1449.9,1419.9 L1451.7,1423.5 L1453.6,1427.0 L1455.4,1430.6 L1457.3,1434.2 L1459.2,1437.7 L1461.1,1441.2 L1463.1,1444.7 L1465.1,1448.2 L1467.1,1451.7 L1469.1,1455.2 L1471.2,1458.6 L1473.3,1462.1 L1475.5,1465.5 L1477.6,1468.8 L1479.8,1472.2 L1482.1,1475.6 L1484.4,1478.9 L1486.7,1482.1 L1489.1,1485.4 L1491.5,1488.6 L1494.0,1491.8 L1496.5,1494.9 L1499.1,1498.0 L1501.7,1501.0 L1504.4,1504.0 L1507.2,1506.9 L1510.0,1509.8 L1512.9,1512.5 L1515.9,1515.3 L1518.9,1517.9 L1522.0,1520.5 L1525.2,1522.9 L1528.4,1525.3 L1531.8,1527.6 L1535.1,1529.8 L1538.6,1531.8 L1542.1,1533.8 L1545.7,1535.6 L1549.3,1537.4 L1553.0,1539.0 L1556.7,1540.4 L1560.5,1541.8 L1564.4,1543.0 L1568.2,1544.1 L1572.1,1545.1 L1576.1,1545.9 L1580.0,1546.6 L1584.0,1547.2 L1588.0,1547.7 L1592.0,1548.0" fill="none" stroke="#0f0" stroke-width="13.5" stroke-linecap="round" stroke-linejoin="round"/>
<path d="M1588.0,1548.0 L1591.8,1546.8 L1595.6,1545.5 L1599.4,1544.1 L1603.1,1542.5 L1606.7,1540.8 L1610.3,1539.0 L1613.8,1537.0 L1617.2,1534.9 L1620.6,1532.7 L1623.8,1530.4 L1627.0,1527.9 L1630.1,1525.3 L1633.1,1522.6 L1635.9,1519.9 L1638.7,1517.0 L1641.4,1514.0 L1644.1,1510.9 L1646.6,1507.8 L1649.0,1504.6 L1651.3,1501.3 L1653.6,1498.0 L1655.7,1494.6 L1657.8,1491.2 L1659.8,1487.7 L1661.8,1484.2 L1663.6,1480.7 L1665.5,1477.1 L1667.2,1473.5 L1668.9,1469.8 L1670.5,1466.2 L1672.1,1462.5 L1673.7,1458.8 L1675.2,1455.0 L1676.6,1451.3 L1678.1,1447.6 L1679.5,1443.8 L1680.9,1440.0 L1682.2,1436.2 L1683.5,1432.4 L1684.8,1428.6 L1686.1,1424.8 L1687.3,1421.0 L1688.5,1417.2 L1689.7,1413.3 L1690.9,1409.5 L1692.0,1405.6 L1693.1,1401.8 L1694.2,1397.9 L1695.3,1394.1 L1696.4,1390.2 L1697.4,1386.3 L1698.4,1382.4 L1699.4,1378.5 L1700.4,1374.6 L1701.4,1370.8 L1702.4,1366.9 L1703.4,1363.0 L1704.3,1359.1 L1705.3,1355.2 L1706.2,1351.3 L1707.1,1347.3 L1708.0,1343.4 L1708.9,1339.5 L1709.9,1335.6 L1710.8,1331.7 L1711.7,1327.8 L1712.6,1323.9 L1713.5,1320.0 L1714.4,1316.0 L1715.3,1312.1 L1716.2,1308.2 L1717.1,1304.3 L1718.0,1300.4 L1718.9,1296.5 L1719.8,1292.6 L1720.7,1288.7 L1721.6,1284.7 L1722.5,1280.8 L1723.4,1276.9 L1724.3,1273.0 L1725.2,1269.1 L1726.1,1265.2 L1727.0,1261.3 L1727.9,1257.4 L1728.8,1253.5 L1729.8,1249.5 L1730.7,1245.6 L1731.6,1241.7 L1732.5,1237.8 L1733.4,1233.9 L1734.3,1230.0 L1735.3,1226.1 L1736.2,1222.2 L1737.1,1218.3 L1738.0,1214.4 L1738.9,1210.5 L1739.9,1206.5 L1740.8,1202.6 L1741.7,1198.7 L1742.7,1194.8 L1743.6,1190.9 L1744.5,1187.0 L1745.5,1183.1 L1746.4,1179.2 L1747.3,1175.3 L1748.3,1171.4 L1749.2,1167.5 L1750.1,1163.6 L1751.1,1159.7 L1752.0,1155.8 L1753.0,1151.9 L1753.9,1148.0 L1754.9,1144.1 L1755.8,1140.2 L1756.8,1136.3 L1757.7,1132.4 L1758.7,1128.5 L1759.6,1124.6 L1760.6,1120.7 L1761.5,1116.8 L1762.5,1112.9 L1763.4,1109.0 L1764.4,1105.1 L1765.4,1101.2 L1766.3,1097.3 L1767.3,1093.4 L1768.3,1089.5 L1769.2,1085.6 L1770.2,1081.7 L1771.2,1077.8 L1772.1,1073.9 L1773.1,1070.0 L1774.1,1066.1 L1775.1,1062.2 L1776.1,1058.3 L1777.0,1054.4 L1778.0,1050.5 L1779.0,1046.6 L1780.0,1042.7 L1781.0,1038.8 L1782.0,1035.0 L1783.0,1031.1 L1784.0,1027.2 L1785.0,1023.3 L1786.0,1019.4 L1787.0,1015.5 L1788.0,1011.6 L1789.0,1007.7 L1790.0,1003.8 L1791.0,1000.0 L1792.0,996.1 L1793.0,992.2 L1794.1,988.3 L1795.1,984.4 L1796.1,980.5 L1797.1,976.7 L1798.2,972.8 L1799.2,968.9 L1800.2,965.0 L1801.3,961.1 L1802.3,957.3 L1803.4,953.4 L1804.4,949.5 L1805.5,945.6 L1806.5,941.8 L1807.6,937.9 L1808.6,934.0 L1809.7,930.1 L1810.8,926.3 L1811.8,922.4 L1812.9,918.5 L1814.0,914.7 L1815.1,910.8 L1816.1,906.9 L1817.2,903.1 L1818.3,899.2 L1819.4,895.3 L1820.5,891.5 L1821.6,887.6 L1822.7,883.7 L1823.8,879.9 L1825.0,876.0 L1826.1,872.2 L1827.2,868.3 L1828.3,864.5 L1829.5,860.6 L1830.6,856.8 L1831.7,852.9 L1832.9,849.1 L1834.0,845.2 L1835.2,841.4 L1836.3,837.5 L1837.5,833.7 L1838.7,829.8 L1839.8,826.0 L1841.0,822.2 L1842.2,818.3 L1843.4,814.5 L1844.6,810.6 L1845.8,806.8 L1847.0,803.0 L1848.2,799.2 L1849.4,795.3 L1850.6,791.5 L1851.8,787.7 L1853.0,783.8 L1854.3,780.0 L1855.5,776.2 L1856.7,772.4 L1858.0,768.6 L1859.2,764.7 L1860.5,760.9 L1861.8,757.1 L1863.1,753.3 L1864.3,749.5 L1865.7,745.7 L1867.0,741.9 L1868.3,738.1 L1869.7,734.4 L1871.1,730.6 L1872.4,726.8 L1873.9,723.1 L1875.3,719.3 L1876.8,715.6 L1878.3,711.9 L1879.8,708.1 L1881.3,704.4 L1882.9,700.7 L1884.5,697.0 L1886.1,693.4 L1887.8,689.7 L1889.5,686.1 L1891.2,682.5 L1893.0,678.9 L1894.8,675.3 L1896.6,671.7 L1898.5,668.2 L1900.5,664.7 L1902.5,661.2 L1904.5,657.7 L1906.6,654.3 L1908.7,650.8 L1910.8,647.5 L1913.1,644.1 L1915.3,640.8 L1917.7,637.5 L1920.1,634.3 L1922.5,631.1 L1925.0,628.0 L1927.5,624.9 L1930.2,621.8 L1932.8,618.8 L1935.6,615.9 L1938.3,613.0 L1941.2,610.2 L1944.1,607.4 L1947.0,604.7 L1950.1,602.0 L1953.1,599.4 L1956.3,596.9 L1959.5,594.5 L1962.7,592.1 L1966.0,589.8 L1969.4,587.6 L1972.8,585.5 L1976.2,583.4 L1979.7,581.4 L1983.2,579.5 L1986.8,577.7 L1990.4,576.0 L1994.1,574.3 L1997.8,572.8 L2001.5,571.3 L2005.3,569.9 L2009.1,568.5 L2012.9,567.3 L2016.7,566.1" fill="none" stroke="#0f0" stroke-width="13.5" stroke-linecap="round" stroke-linejoin="round"/>
<path d="M1120.4,978.5 L1123.4,981.2 L1126.3,983.9 L1129.3,986.7 L1132.2,989.4 L1135.1,992.2 L1137.9,995.0 L1140.8,997.9 L1143.6,1000.8 L1146.4,1003.7 L1149.1,1006.6 L1151.9,1009.5 L1154.6,1012.5 L1157.3,1015.5 L1159.9,1018.5 L1162.6,1021.6 L1165.2,1024.6 L1167.7,1027.7 L1170.3,1030.8 L1172.8,1034.0 L1175.3,1037.1 L1177.8,1040.3 L1180.2,1043.5 L1182.6,1046.7 L1185.0,1049.9 L1187.4,1053.2 L1189.7,1056.5 L1192.0,1059.8 L1194.3,1063.1 L1196.6,1066.4 L1198.8,1069.7 L1201.0,1073.1 L1203.2,1076.5 L1205.4,1079.9 L1207.5,1083.3 L1209.6,1086.7 L1211.7,1090.1 L1213.8,1093.6 L1215.8,1097.1 L1217.9,1100.5 L1219.8,1104.0 L1221.8,1107.5 L1223.8,1111.1 L1225.7,1114.6 L1227.6,1118.1 L1229.5,1121.7 L1231.4,1125.2 L1233.2,1128.8 L1235.0,1132.4 L1236.9,1136.0 L1238.6,1139.6 L1240.4,1143.2 L1242.2,1146.8 L1243.9,1150.5 L1245.6,1154.1 L1247.3,1157.7 L1249.0,1161.4 L1250.7,1165.1 L1252.3,1168.7 L1254.0,1172.4 L1255.6,1176.1 L1257.2,1179.8 L1258.8,1183.5 L1260.4,1187.2 L1261.9,1190.9 L1263.5,1194.6 L1265.0,1198.3 L1266.6,1202.0 L1268.1,1205.7 L1269.6,1209.5 L1271.1,1213.2 L1272.6,1216.9 L1274.1,1220.7 L1275.5,1224.4 L1277.0,1228.2 L1278.4,1231.9 L1279.9,1235.7 L1281.3,1239.4 L1282.8,1243.2 L1284.2,1246.9 L1285.6,1250.7 L1287.0,1254.5 L1288.4,1258.2 L1289.8,1262.0 L1291.2,1265.8 L1292.6,1269.6 L1294.0,1273.3 L1295.4,1277.1 L1296.8,1280.9 L1298.1,1284.7 L1299.5,1288.4 L1300.9,1292.2 L1302.3,1296.0 L1303.7,1299.8 L1305.0,1303.6 L1306.4,1307.3 L1307.8,1311.1 L1309.2,1314.9 L1310.6,1318.7 L1312.0,1322.5 L1313.4,1326.2 L1314.8,1330.0 L1316.2,1333.8 L1317.6,1337.5 L1319.0,1341.3 L1320.5,1345.0 L1322.0,1348.8 L1323.4,1352.5 L1324.9,1356.3 L1326.4,1360.0 L1327.9,1363.7 L1329.5,1367.4 L1331.0,1371.1 L1332.6,1374.9 L1334.2,1378.5 L1335.8,1382.2 L1337.4,1385.9 L1339.1,1389.6 L1340.7,1393.2 L1342.4,1396.9 L1344.2,1400.5 L1345.9,1404.1 L1347.7,1407.7 L1349.5,1411.3 L1351.4,1414.9 L1353.2,1418.5 L1355.1,1422.0 L1357.1,1425.5 L1359.0,1429.0 L1361.0,1432.5 L1363.1,1436.0 L1365.2,1439.4 L1367.3,1442.9 L1369.4,1446.3 L1371.6,1449.6 L1373.9,1453.0 L1376.1,1456.3 L1378.4,1459.6 L1380.8,1462.8 L1383.2,1466.1 L1385.6,1469.3 L1388.1,1472.4 L1390.7,1475.6 L1393.3,1478.6 L1395.9,1481.7 L1398.6,1484.7 L1401.3,1487.6 L1404.1,1490.6 L1406.9,1493.4 L1409.7,1496.2 L1412.7,1499.0 L1415.6,1501.7 L1418.7,1504.4 L1421.7,1507.0 L1424.8,1509.5 L1428.0,1512.0 L1431.2,1514.4 L1434.5,1516.8 L1437.8,1519.1 L1441.2,1521.3 L1444.6,1523.4 L1448.0,1525.5 L1451.5,1527.5 L1455.1,1529.4 L1458.6,1531.2 L1462.2,1533.0 L1465.9,1534.7 L1469.6,1536.3 L1473.3,1537.8 L1477.1,1539.2 L1480.9,1540.5 L1484.7,1541.8 L1488.5,1543.0 L1492.4,1544.1 L1496.3,1545.1 L1500.2,1546.0 L1504.2,1546.9 L1508.1,1547.6 L1512.1,1548.3 L1516.0,1548.9 L1520.0,1549.4" fill="none" stroke="#f00" stroke-width="13.5" stroke-linecap="round" stroke-linejoin="round"/>
<path d="M1662.0,1552.0 L1665.8,1550.9 L1669.6,1549.6 L1673.4,1548.2 L1677.2,1546.8 L1680.9,1545.3 L1684.6,1543.6 L1688.2,1541.9 L1691.8,1540.1 L1695.3,1538.1 L1698.8,1536.1 L1702.2,1534.0 L1705.5,1531.8 L1708.8,1529.5 L1712.1,1527.1 L1715.2,1524.6 L1718.3,1522.1 L1721.3,1519.4 L1724.3,1516.7 L1727.2,1513.9 L1730.0,1511.0 L1732.7,1508.0 L1735.3,1505.0 L1737.9,1501.9 L1740.4,1498.8 L1742.8,1495.6 L1745.1,1492.3 L1747.4,1489.0 L1749.6,1485.6 L1751.8,1482.2 L1753.8,1478.8 L1755.8,1475.3 L1757.7,1471.8 L1759.6,1468.2 L1761.4,1464.6 L1763.2,1461.0 L1764.9,1457.4 L1766.5,1453.7 L1768.1,1450.0 L1769.6,1446.3 L1771.1,1442.6 L1772.6,1438.8 L1774.0,1435.1 L1775.3,1431.3 L1776.7,1427.5 L1778.0,1423.7 L1779.2,1419.9 L1780.4,1416.0 L1781.6,1412.2 L1782.8,1408.3 L1783.9,1404.5 L1785.0,1400.6 L1786.1,1396.8 L1787.2,1392.9 L1788.2,1389.0 L1789.2,1385.1 L1790.3,1381.2 L1791.3,1377.3 L1792.2,1373.4 L1793.2,1369.5 L1794.2,1365.6 L1795.1,1361.7 L1796.1,1357.8 L1797.0,1353.9 L1798.0,1350.0 L1798.9,1346.1 L1799.8,1342.2 L1800.7,1338.3 L1801.6,1334.4 L1802.5,1330.5 L1803.4,1326.6 L1804.3,1322.6 L1805.2,1318.7 L1806.1,1314.8 L1807.0,1310.9 L1807.8,1307.0 L1808.7,1303.0 L1809.6,1299.1 L1810.4,1295.2 L1811.3,1291.3 L1812.1,1287.3 L1813.0,1283.4 L1813.8,1279.5 L1814.6,1275.5 L1815.5,1271.6 L1816.3,1267.7 L1817.1,1263.7 L1817.9,1259.8 L1818.7,1255.9 L1819.6,1251.9 L1820.4,1248.0 L1821.2,1244.1 L1822.0,1240.1 L1822.8,1236.2 L1823.6,1232.3 L1824.4,1228.3 L1825.2,1224.4 L1826.0,1220.4 L1826.8,1216.5 L1827.5,1212.6 L1828.3,1208.6 L1829.1,1204.7 L1829.9,1200.7 L1830.7,1196.8 L1831.5,1192.9 L1832.3,1188.9 L1833.1,1185.0 L1833.8,1181.0 L1834.6,1177.1 L1835.4,1173.2 L1836.2,1169.2 L1837.0,1165.3 L1837.8,1161.3 L1838.6,1157.4 L1839.4,1153.5 L1840.1,1149.5 L1840.9,1145.6 L1841.7,1141.6 L1842.5,1137.7 L1843.3,1133.8 L1844.1,1129.8 L1844.9,1125.9 L1845.7,1122.0 L1846.5,1118.0 L1847.4,1114.1 L1848.2,1110.1 L1849.0,1106.2 L1849.8,1102.3 L1850.6,1098.3 L1851.5,1094.4 L1852.3,1090.5 L1853.1,1086.6 L1854.0,1082.6 L1854.8,1078.7 L1855.7,1074.8 L1856.5,1070.8 L1857.4,1066.9 L1858.3,1063.0 L1859.1,1059.1 L1860.0,1055.2 L1860.9,1051.2 L1861.8,1047.3 L1862.7,1043.4 L1863.6,1039.5 L1864.5,1035.6 L1865.4,1031.7 L1866.3,1027.8 L1867.3,1023.8 L1868.2,1019.9 L1869.1,1016.0 L1870.1,1012.1 L1871.1,1008.2 L1872.0,1004.3 L1873.0,1000.4 L1874.0,996.5 L1875.0,992.6 L1876.0,988.8 L1877.0,984.9 L1878.1,981.0 L1879.1,977.1 L1880.1,973.2 L1881.2,969.4 L1882.3,965.5 L1883.3,961.6 L1884.4,957.7 L1885.5,953.9 L1886.6,950.0 L1887.8,946.2 L1888.9,942.3 L1890.0,938.5 L1891.2,934.6 L1892.4,930.8 L1893.6,926.9 L1894.8,923.1 L1896.0,919.3 L1897.2,915.4 L1898.4,911.6 L1899.7,907.8 L1900.9,904.0 L1902.2,900.2 L1903.5,896.4 L1904.8,892.6 L1906.1,888.8 L1907.5,885.0 L1908.8,881.2 L1910.2,877.4 L1911.6,873.6 L1913.0,869.9 L1914.4,866.1 L1915.8,862.3 L1917.2,858.6 L1918.7,854.9 L1920.2,851.1 L1921.7,847.4 L1923.2,843.7 L1924.7,839.9 L1926.2,836.2 L1927.8,832.5 L1929.4,828.8 L1931.0,825.2 L1932.6,821.5 L1934.2,817.8 L1935.9,814.1 L1937.6,810.5 L1939.2,806.8 L1941.0,803.2 L1942.7,799.6 L1944.4,796.0 L1946.2,792.4 L1948.0,788.8 L1949.8,785.2 L1951.6,781.6 L1953.5,778.0 L1955.3,774.5 L1957.2,770.9 L1959.1,767.4 L1961.0,763.8 L1963.0,760.3 L1965.0,756.8 L1967.0,753.3 L1969.0,749.9 L1971.0,746.4 L1973.1,742.9 L1975.1,739.5 L1977.2,736.1 L1979.3,732.7 L1981.5,729.3 L1983.6,725.9 L1985.8,722.5 L1988.0,719.1 L1990.3,715.8 L1992.5,712.5 L1994.8,709.2 L1997.1,705.9 L1999.4,702.6 L2001.7,699.3 L2004.1,696.1 L2006.5,692.8 L2008.9,689.6 L2011.3,686.4 L2013.8,683.2 L2016.2,680.1" fill="none" stroke="#f00" stroke-width="13.5" stroke-linecap="round" stroke-linejoin="round"/>
</g>
<polygon points="1017.8,1168.2 1079.7,1193.9 1057.6,1204.4 1156.7,1433.9 1114.2,1452.4 1014.7,1221.7 992.2,1231.4" fill="#2f528f"/>
<polygon points="1022.3,1180.2 1054.7,1193.7 1046.3,1198.3 1143.8,1429.3 1118.8,1439.4 1019.3,1210.3 1009.3,1213.6" fill="#ff0000"/>
<polygon points="1902.0,1127.6 1933.4,1187.6 1909.3,1181.1 1836.4,1419.5 1792.0,1405.6 1865.0,1167.3 1841.9,1159.5" fill="#2f528f"/>
<polygon points="1898.3,1139.6 1914.9,1171.0 1904.7,1169.1 1830.8,1408.4 1804.0,1400.1 1876.1,1159.9 1866.8,1157.1" fill="#70ad47"/>
<g stroke="#000" stroke-width="5.0" fill="none" stroke-linecap="butt">
<path d="M310.0,20.8 H2215.0 V1554.5 H310.0 Z"/>
<path d="M280.0,1554.5 H310.0"/>
<path d="M295.0,1452.3 H310.0"/>
<path d="M280.0,1350.0 H310.0"/>
<path d="M295.0,1247.8 H310.0"/>
<path d="M280.0,1145.5 H310.0"/>
<path d="M295.0,1043.3 H310.0"/>
<path d="M280.0,941.0 H310.0"/>
<path d="M295.0,838.8 H310.0"/>
<path d="M280.0,736.5 H310.0"/>
<path d="M295.0,634.3 H310.0"/>
<path d="M280.0,532.0 H310.0"/>
<path d="M295.0,429.8 H310.0"/>
<path d="M280.0,327.5 H310.0"/>
<path d="M295.0,225.3 H310.0"/>
<path d="M280.0,123.0 H310.0"/>
<path d="M295.0,20.8 H310.0"/>
<path d="M310.0,1554.5 V1584.5"/>
<path d="M500.5,1554.5 V1569.5"/>
<path d="M691.0,1554.5 V1584.5"/>
<path d="M881.5,1554.5 V1569.5"/>
<path d="M1072.0,1554.5 V1584.5"/>
<path d="M1262.5,1554.5 V1569.5"/>
<path d="M1453.0,1554.5 V1584.5"/>
<path d="M1643.5,1554.5 V1569.5"/>
<path d="M1834.0,1554.5 V1584.5"/>
<path d="M2024.5,1554.5 V1569.5"/>
<path d="M2215.0,1554.5 V1584.5"/>
</g>
<text class="tk" text-anchor="end" transform="translate(258.5,1573.2) scale(1,1.03)">0</text>
<text class="tk" text-anchor="end" transform="translate(258.5,1368.7) scale(1,1.03)">200</text>
<text class="tk" text-anchor="end" transform="translate(258.5,1164.2) scale(1,1.03)">400</text>
<text class="tk" text-anchor="end" transform="translate(258.5,959.7) scale(1,1.03)">600</text>
<text class="tk" text-anchor="end" transform="translate(258.5,755.2) scale(1,1.03)">800</text>
<text class="tk" text-anchor="end" transform="translate(258.5,550.7) scale(1,1.03)">1000</text>
<text class="tk" text-anchor="end" transform="translate(258.5,346.2) scale(1,1.03)">1200</text>
<text class="tk" text-anchor="end" transform="translate(258.5,141.7) scale(1,1.03)">1400</text>
<text class="tk" text-anchor="middle" transform="translate(308.5,1655.0) scale(1,1.03)">15</text>
<text class="tk" text-anchor="middle" transform="translate(689.5,1655.0) scale(1,1.03)">20</text>
<text class="tk" text-anchor="middle" transform="translate(1070.5,1655.0) scale(1,1.03)">25</text>
<text class="tk" text-anchor="middle" transform="translate(1451.5,1655.0) scale(1,1.03)">30</text>
<text class="tk" text-anchor="middle" transform="translate(1832.5,1655.0) scale(1,1.03)">35</text>
<text class="tk" text-anchor="middle" transform="translate(2213.5,1655.0) scale(1,1.03)">40</text>
<text class="ttl" x="1262.0" y="1783.6" text-anchor="middle">Voltage (V)</text>
<text class="ttl" text-anchor="middle" transform="translate(82.0,786.6) rotate(-90)">Energy (Wh)</text>
<path d="M408.0,92.8 H584.0" stroke="#000" stroke-width="14" stroke-linecap="round"/>
<text class="lg" transform="translate(606.0,121.0) scale(1,1.045)">2 kW &amp; 2 kW</text>
<path d="M408.0,190.4 H584.0" stroke="#00f" stroke-width="14" stroke-linecap="round"/>
<text class="lg" transform="translate(606.0,218.6) scale(1,1.045)">3 kW &amp; 3 kW</text>
<path d="M408.0,288.0 H584.0" stroke="#0f0" stroke-width="14" stroke-linecap="round"/>
<text class="lg" transform="translate(606.0,316.2) scale(1,1.045)">4 kW &amp; 4 kW</text>
<path d="M408.0,385.6 H584.0" stroke="#f00" stroke-width="14" stroke-linecap="round"/>
<text class="lg" transform="translate(606.0,413.8) scale(1,1.045)">5 kW &amp; 5 kW</text>
</svg>
</body></html>
